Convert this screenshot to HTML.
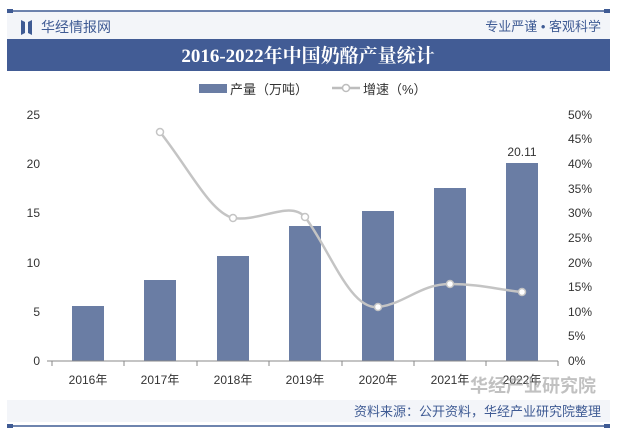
<!DOCTYPE html>
<html><head><meta charset="utf-8"><style>
body{margin:0;width:617px;height:432px;background:#fff;overflow:hidden;font-family:"Liberation Sans","Noto Sans CJK SC",sans-serif;}
</style></head><body>
<svg width="617" height="432" xmlns="http://www.w3.org/2000/svg" font-family="Liberation Sans, Noto Sans CJK SC, sans-serif">
<rect x="7" y="11" width="603" height="28" fill="#f3f5f9"/>
<line x1="7" y1="11" x2="610" y2="11" stroke="#3f5b94" stroke-width="1.5"/>
<rect x="7" y="9" width="6" height="4" fill="#3f5b94"/><rect x="604" y="9" width="6" height="4" fill="#3f5b94"/>
<path d="M21 20 L25 22 L25 33 L21 35 Z M28 22 L32 20 L32 35 L28 33 Z" fill="#3f5b94"/>
<text x="41" y="32" font-size="14" fill="#3f5b94">华经情报网</text>
<text x="601" y="31" font-size="13" fill="#3f5b94" text-anchor="end">专业严谨 • 客观科学</text>
<rect x="7" y="39" width="603" height="32" fill="#425c95"/>
<text x="308" y="62" font-size="19" font-weight="bold" fill="#fff" text-anchor="middle" font-family="Liberation Serif, Noto Serif CJK SC, serif">2016-2022年中国奶酪产量统计</text>
<rect x="199" y="84" width="28" height="9" fill="#6a7da4"/>
<text x="230" y="94" font-size="13" fill="#333">产量（万吨）</text>
<line x1="332" y1="88" x2="360" y2="88" stroke="#bdbdbd" stroke-width="2.5"/>
<circle cx="346" cy="88" r="3.5" fill="#fff" stroke="#bdbdbd" stroke-width="1.5"/>
<text x="363" y="94" font-size="13" fill="#333">增速（%）</text>
<g font-size="12" fill="#333">
<text x="40" y="119" text-anchor="end">25</text><text x="40" y="168" text-anchor="end">20</text><text x="40" y="217" text-anchor="end">15</text><text x="40" y="267" text-anchor="end">10</text><text x="40" y="316" text-anchor="end">5</text><text x="40" y="365" text-anchor="end">0</text>
<text x="568" y="119">50%</text><text x="568" y="143">45%</text><text x="568" y="168">40%</text><text x="568" y="193">35%</text><text x="568" y="217">30%</text><text x="568" y="242">25%</text><text x="568" y="267">20%</text><text x="568" y="291">15%</text><text x="568" y="316">10%</text><text x="568" y="340">5%</text><text x="568" y="365">0%</text>
</g>
<g fill="#6a7da4">
<rect x="72" y="306" width="32" height="55"/>
<rect x="144" y="280" width="32" height="81"/>
<rect x="217" y="256" width="32" height="105"/>
<rect x="289" y="226" width="32" height="135"/>
<rect x="362" y="211" width="32" height="150"/>
<rect x="434" y="188" width="32" height="173"/>
<rect x="506" y="163" width="32" height="198"/>
</g>
<text x="522" y="156" font-size="12" fill="#333" text-anchor="middle">20.11</text>
<line x1="52" y1="361" x2="558" y2="361" stroke="#888"/>
<g stroke="#888"><line x1="52" y1="361" x2="52" y2="366"/><line x1="124" y1="361" x2="124" y2="366"/><line x1="197" y1="361" x2="197" y2="366"/><line x1="269" y1="361" x2="269" y2="366"/><line x1="342" y1="361" x2="342" y2="366"/><line x1="414" y1="361" x2="414" y2="366"/><line x1="486" y1="361" x2="486" y2="366"/><line x1="558" y1="361" x2="558" y2="366"/><line x1="47" y1="361" x2="52" y2="361"/></g>
<g font-size="12" fill="#333" text-anchor="middle">
<text x="88" y="384">2016年</text><text x="160" y="384">2017年</text><text x="233" y="384">2018年</text><text x="305" y="384">2019年</text><text x="378" y="384">2020年</text><text x="450" y="384">2021年</text><text x="522" y="384">2022年</text>
</g>
<path d="M160 132 C190 170,210 212,233 218 C260 222,290 200,305 217 C330 250,350 310,378 307 C405 304,420 284,450 284 C480 284,500 290,522 292" fill="none" stroke="#c4c4c4" stroke-width="2.5"/>
<g fill="#fff" stroke="#c4c4c4" stroke-width="1.5">
<circle cx="160" cy="132" r="3.5"/><circle cx="233" cy="218" r="3.5"/><circle cx="305" cy="217" r="3.5"/><circle cx="378" cy="307" r="3.5"/><circle cx="450" cy="284" r="3.5"/><circle cx="522" cy="292" r="3.5"/>
</g>
<text x="470" y="392" font-size="18" font-weight="bold" fill="#999" opacity="0.6">华经产业研究院</text>
<rect x="7" y="400" width="603" height="22" fill="#f3f5f9"/>
<text x="601" y="416" font-size="13" fill="#3f5b94" text-anchor="end">资料来源：公开资料，华经产业研究院整理</text>
<line x1="7" y1="426" x2="610" y2="426" stroke="#3f5b94" stroke-width="1.5"/>
<rect x="7" y="424" width="6" height="4" fill="#3f5b94"/><rect x="604" y="424" width="6" height="4" fill="#3f5b94"/>
</svg>
</body></html>
